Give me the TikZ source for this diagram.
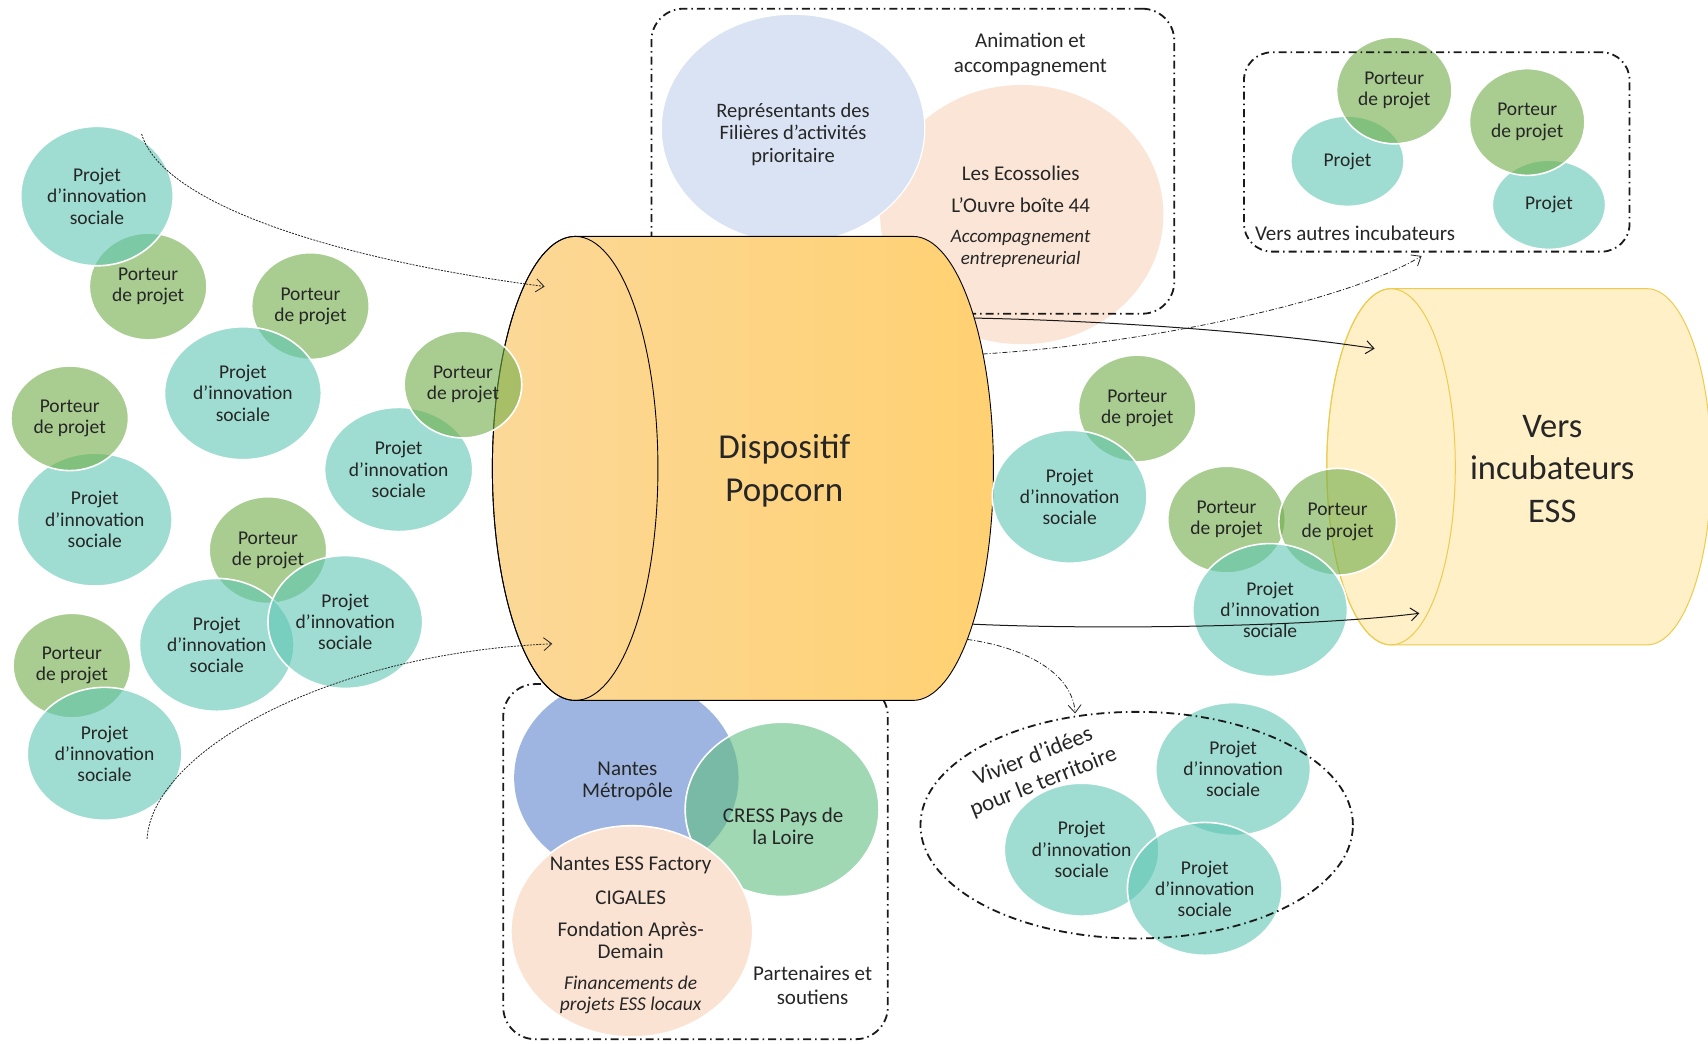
\documentclass[tikz,border=0pt]{standalone}
\usepackage{fontspec}
\setmainfont{Carlito}
\usetikzlibrary{shapes.geometric,arrows.meta}
\definecolor{tealc}{HTML}{5FC7B4}
\definecolor{greenc}{HTML}{70AD47}
\definecolor{lblue}{HTML}{DAE3F3}
\definecolor{peach}{HTML}{FBE5D6}
\definecolor{peachb}{HTML}{FBE3D3}
\definecolor{mblue}{HTML}{4472C4}
\definecolor{mint}{HTML}{61BE82}
\definecolor{cylL}{HTML}{FCD898}
\definecolor{cylR}{HTML}{FFD172}
\definecolor{vfill}{HTML}{FFEEBF}
\definecolor{vline}{HTML}{EDCB4C}
\definecolor{txt}{HTML}{262626}
\def\pxu{1.0893pt}
\newcommand\fs[2]{\fontsize{#1}{#2}\selectfont}
\newcommand\PIS{Projet\\d’innovation\\sociale}
\newcommand\PDP{Porteur\\de projet}
\tikzset{
  bub/.style={ellipse, draw=white, line width=1.6pt, fill opacity=0.6, text opacity=1,
    inner sep=0pt, align=center, text=txt, font=\fs{19.5pt}{21.3pt}},
  proj/.style={bub, fill=tealc, minimum width=142*\pxu, minimum height=122*\pxu},
  port/.style={bub, fill=greenc, minimum width=108*\pxu, minimum height=98*\pxu},
  smallproj/.style={bub, fill=tealc, minimum width=104*\pxu, minimum height=83*\pxu},
  dashbox/.style={rectangle, rounded corners=32pt, inner sep=0pt, draw=black!90, line width=1.8pt,
    dash pattern=on 8pt off 4pt on 1.5pt off 4pt},
  lbl/.style={text=txt, align=center, inner sep=0pt, yshift=-2.5pt},
  tipped/.style={-{Straight Barb[length=8pt,width=13pt]}},
  dotarrow/.style={tipped, draw=black!85, line width=0.8pt, dash pattern=on 2pt off 1.2pt},
  solidarrow/.style={tipped, draw=black!90, line width=1pt},
  dasharrow/.style={tipped, draw=black!85, line width=0.8pt, dash pattern=on 5pt off 2pt on 1pt off 2pt},
}
\begin{document}
\begin{tikzpicture}[x=1.0893pt, y=-1.0893pt]
\fill[white] (0,0) rectangle (1568,958);
\useasboundingbox (0,0) rectangle (1568,958);
\clip (0,0) rectangle (1568,958);

% ---------- top box: animation et accompagnement
\node[ellipse, fill=peach, minimum width=260*\pxu, minimum height=238*\pxu, inner sep=0pt] (ecoC) at (938,197) {};
\node[ellipse, fill=lblue, draw=white, line width=1.2pt, minimum width=242*\pxu, minimum height=210*\pxu, inner sep=0pt] (repC) at (728,118) {};
\node[lbl, font=\fs{20.5pt}{22.3pt}] (repT) at (728,121) {Représentants des\\Filières d’activités\\prioritaire};
\node[lbl, font=\fs{21pt}{25pt}] (animT) at (946,48) {Animation et\\accompagnement};
\node[lbl, font=\fs{21pt}{25pt}] (ecoT1) at (937,157) {Les Ecossolies};
\node[lbl, font=\fs{21pt}{25pt}] (ecoT2) at (937,186) {L’Ouvre boîte 44};
\node[lbl, font=\itshape\fs{19pt}{21.8pt}] (ecoT3) at (937,226) {Accompagnement\\entrepreneurial};
\node[dashbox, minimum width=480*\pxu, minimum height=280*\pxu] (boxTop) at (838,148) {};

% ---------- bottom box: partenaires et soutiens
\node[ellipse, fill=mblue, fill opacity=0.52, minimum width=206*\pxu, minimum height=184*\pxu, inner sep=0pt] (nmC) at (575,714) {};
\node[ellipse, fill=mint, fill opacity=0.6, draw=white, line width=1.6pt, minimum width=178*\pxu, minimum height=160*\pxu, inner sep=0pt] (cressC) at (718,743) {};
\node[ellipse, fill=peachb, draw=white, line width=1.6pt, minimum width=222*\pxu, minimum height=194*\pxu, inner sep=0pt] (finC) at (580,855) {};
\node[lbl, font=\fs{21pt}{21.8pt}] (nmT) at (576,715) {Nantes\\Métropôle};
\node[lbl, font=\fs{21pt}{21.8pt}] (cressT) at (719,756) {CRESS Pays de\\la Loire};
\node[lbl, font=\fs{21pt}{21.8pt}] (finT1) at (579,792) {Nantes ESS Factory};
\node[lbl, font=\fs{21pt}{21.8pt}] (finT2) at (579,822) {CIGALES};
\node[lbl, font=\fs{21pt}{22.5pt}] (finT3) at (579,861) {Fondation Après-\\Demain};
\node[lbl, font=\itshape\fs{19.5pt}{21.8pt}] (finT4) at (579,911) {Financements de\\projets ESS locaux};
\node[lbl, font=\fs{21pt}{24pt}] (partT) at (746,902) {Partenaires et\\soutiens};
\node[dashbox, minimum width=353*\pxu, minimum height=326*\pxu] (boxBot) at (638.5,791) {};

% ---------- main cylinder
\path[draw=black, line width=0.9pt, left color=cylL, right color=cylR]
  (528,217) -- (838,217)
  arc[start angle=90, end angle=-90, x radius=74*\pxu, y radius=213*\pxu]
  -- (528,643)
  arc[start angle=270, end angle=90, x radius=76*\pxu, y radius=213*\pxu] -- cycle;
\draw[line width=0.9pt] (528,430) ellipse[x radius=76*\pxu, y radius=213*\pxu];
\node[lbl, font=\fs{35pt}{43.5pt}] (popT) at (720,430) {Dispositif\\Popcorn};

% ---------- left bubbles
\node[port] (g2) at (136,263) {\PDP};
\node[proj, minimum width=140*\pxu, minimum height=128*\pxu] (p1) at (89,180) {\PIS};
\node[port] (g3) at (285,281) {\PDP};
\node[proj, minimum width=144*\pxu] (p4) at (223,361) {\PIS};
\node[proj, minimum width=136*\pxu, minimum height=114*\pxu] (p6) at (366,431) {\PIS};
\node[port] (g5) at (425,353) {\PDP};
\node[proj] (p8) at (87,477) {\PIS};
\node[port, minimum height=96*\pxu] (g7) at (64,384) {\PDP};
\node[port] (g9) at (246,505) {\PDP};
\node[proj] (p10) at (199,592) {\PIS};
\node[proj] (p11) at (317,571) {\PIS};
\node[port, minimum height=96*\pxu] (g12) at (66,611) {\PDP};
\node[proj] (p13) at (96,692) {\PIS};

% ---------- Vers incubateurs ESS cylinder
\path[draw=vline, line width=1pt, fill=vfill, fill opacity=0.85]
  (1277,265) -- (1512,265)
  arc[start angle=90, end angle=-90, x radius=59*\pxu, y radius=163.5*\pxu]
  -- (1277,592)
  arc[start angle=270, end angle=90, x radius=59*\pxu, y radius=163.5*\pxu] -- cycle;
\draw[vline, line width=1pt] (1277,428.5) ellipse[x radius=59*\pxu, y radius=163.5*\pxu];
\node[lbl, font=\fs{34.5pt}{42.5pt}] (versT) at (1425,428) {Vers\\incubateurs\\ESS};

% ---------- right bubbles
\node[port] (g14) at (1044,375) {\PDP};
\node[proj] (p15) at (982,456) {\PIS};
\node[port] (g16) at (1126,477) {\PDP};
\node[port] (g17) at (1228,479) {\PDP};
\node[proj] (p18) at (1166,560) {\PIS};

% ---------- top right box: vers autres incubateurs
\node[smallproj] (t1) at (1237,148) {Projet};
\node[port, minimum width=106*\pxu] (gA) at (1280,83) {\PDP};
\node[smallproj, minimum height=82*\pxu] (t2) at (1422,188) {Projet};
\node[port, minimum width=106*\pxu] (gB) at (1402,112) {\PDP};
\node[lbl, anchor=west, font=\fs{21pt}{24pt}] (autT) at (1152,212) {Vers autres incubateurs};
\node[dashbox, rounded corners=28pt, minimum width=354*\pxu, minimum height=183*\pxu] (boxAut) at (1319,139.5) {};

% ---------- vivier d'idees
\node[proj] (vA) at (1132,706) {\PIS};
\node[proj] (vB) at (993,780) {\PIS};
\node[proj] (vC) at (1106,816) {\PIS};
\node[ellipse, inner sep=0pt, draw=black!90, line width=1.8pt, dash pattern=on 8pt off 4pt on 1.5pt off 4pt,
  minimum width=397*\pxu, minimum height=208*\pxu] (viv) at (1043.5,757.5) {};
\node[lbl, rotate=21.5, font=\fs{23pt}{29pt}] (vivT1) at (948,691) {Vivier d’idées};
\node[lbl, rotate=21.5, font=\fs{23pt}{29pt}] (vivT2) at (958,716) {pour le territoire};

% ---------- connectors
\coordinate (a0) at (130,123);  \coordinate (a1) at (500,263);
\coordinate (b0) at (135,770);  \coordinate (b1) at (507,591);
\coordinate (c0) at (894,292);  \coordinate (c1) at (1262,320);
\coordinate (d0) at (893,573);  \coordinate (d1) at (1303,563);
\coordinate (e0) at (902,325);  \coordinate (e1) at (1305,235);
\coordinate (f0) at (888,587);  \coordinate (f1) at (987,655);

\draw[dotarrow] (a0) .. controls (150,190) and (320,240) .. (a1);
\draw[dotarrow] (b0) .. controls (140,690) and (300,600) .. (b1);
\draw[solidarrow] (c0) .. controls (1000,294) and (1150,303) .. (c1);
\draw[solidarrow] (d0) .. controls (1000,578) and (1200,576) .. (d1);
\draw[dasharrow] (e0) .. controls (1060,315) and (1240,275) .. (e1);
\draw[dasharrow] (f0) .. controls (945,595) and (985,620) .. (f1);
\end{tikzpicture}
\end{document}
